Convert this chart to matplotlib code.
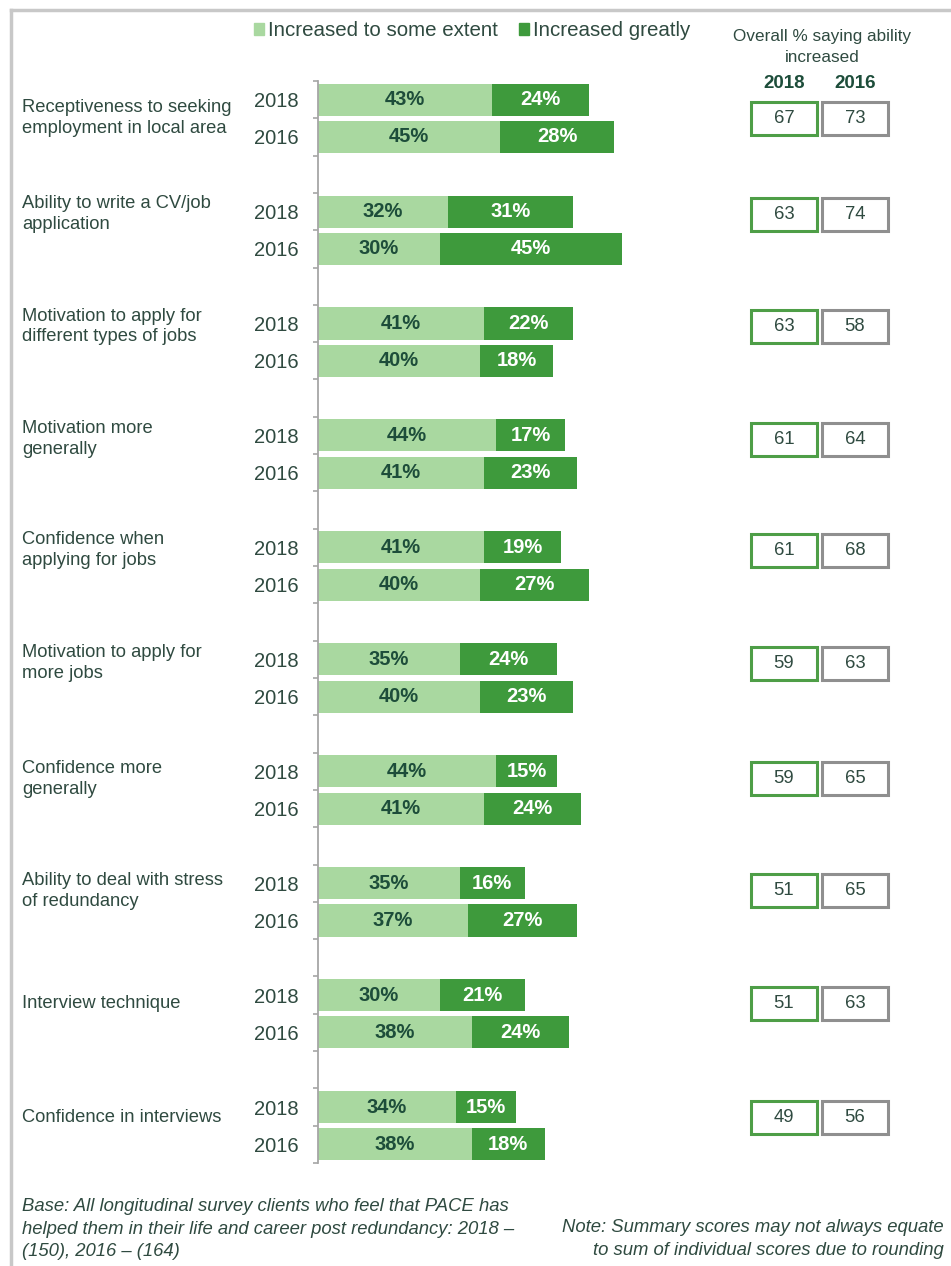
import matplotlib.pyplot as plt
from matplotlib.patches import Rectangle
from matplotlib.transforms import blended_transform_factory

plt.rcParams['font.family'] = ['Liberation Sans', 'DejaVu Sans']

# Survey measures, 2018 vs 2016
categories = [
    "Receptiveness to seeking\nemployment in local area",
    "Ability to write a CV/job\napplication",
    "Motivation to apply for\ndifferent types of jobs",
    "Motivation more\ngenerally",
    "Confidence when\napplying for jobs",
    "Motivation to apply for\nmore jobs",
    "Confidence more\ngenerally",
    "Ability to deal with stress\nof redundancy",
    "Interview technique",
    "Confidence in interviews",
]
some_2018 = [43, 32, 41, 44, 41, 35, 44, 35, 30, 34]
great_2018 = [24, 31, 22, 17, 19, 24, 15, 16, 21, 15]
some_2016 = [45, 30, 40, 41, 40, 40, 41, 37, 38, 38]
great_2016 = [28, 45, 18, 23, 27, 23, 24, 27, 24, 18]
overall_2018 = [67, 63, 63, 61, 61, 59, 59, 51, 51, 49]
overall_2016 = [73, 74, 58, 64, 68, 63, 65, 65, 63, 56]
years = ["2018", "2016"]

LIGHT = '#a9d8a0'
DARK = '#3e9a3c'
TXT = '#2f4a40'
TXT_DARK = '#1d4d3a'

W, H = 951, 1266
fig = plt.figure(figsize=(W / 100, H / 100), dpi=100)


def fx(px):
    return px / W


def fy(py):
    return 1 - py / H


ax = fig.add_axes([fx(318), fy(1163), fx(405), (1163 - 81) / H])

n = len(categories)
y18 = [3 * i for i in range(n)]
y16 = [3 * i + 1 for i in range(n)]
bh = 0.86

for ys, some, great in [(y18, some_2018, great_2018), (y16, some_2016, great_2016)]:
    b1 = ax.barh(ys, some, height=bh, color=LIGHT)
    b2 = ax.barh(ys, great, left=some, height=bh, color=DARK)
    ax.bar_label(b1, labels=[f"{v}%" for v in some], label_type='center',
                 color=TXT_DARK, fontweight='bold', fontsize=14.5)
    ax.bar_label(b2, labels=[f"{v}%" for v in great], label_type='center',
                 color='white', fontweight='bold', fontsize=14.5)

ax.set_xlim(0, 100)
ax.set_ylim(3 * n - 1.5, -0.5)
for s in ['top', 'right', 'bottom']:
    ax.spines[s].set_visible(False)
ax.spines['left'].set_color('#a6a6a6')
ax.spines['left'].set_linewidth(1.3)
ax.set_xticks([])

ax.set_yticks(y18 + y16)
ax.set_yticklabels([years[0]] * n + [years[1]] * n, fontsize=14.5, color=TXT)
ax.tick_params(axis='y', which='major', length=0, pad=14)
ax.set_yticks([k - 0.5 for k in range(3 * n)], minor=True)
ax.tick_params(axis='y', which='minor', length=3.6, width=1.2, color='#a6a6a6')

# category labels and overall summary boxes share a row position
box_offset = [0.5, 0.07, 0.08, 0.1, 0.08, 0.1, 0.2, 0.2, 0.22, 0.27]
tr = blended_transform_factory(fig.transFigure, ax.transData)
box_h = 33 / 37.3
for i in range(n):
    yc = y18[i] + box_offset[i]
    fig.text(fx(22), 0, categories[i], transform=tr, ha='left', va='center',
             fontsize=13.2, color=TXT, linespacing=1.3).set_y(yc)
    for x0, val, ec in [(751, overall_2018[i], '#4e9e47'), (822, overall_2016[i], '#8f8f8f')]:
        r = Rectangle((fx(x0), yc - box_h / 2), fx(66), box_h, transform=tr,
                      fill=False, edgecolor=ec, linewidth=2.2, clip_on=False)
        fig.add_artist(r)
        fig.text(fx(x0 + 33), yc, str(val), transform=tr, ha='center', va='center',
                 fontsize=13.3, color=TXT)

# column header for summary boxes
fig.text(fx(822), fy(47), "Overall % saying ability\nincreased", ha='center', va='center',
         fontsize=12.3, color=TXT, linespacing=1.5)
fig.text(fx(784), fy(84), "2018", ha='center', va='center', fontsize=13.5,
         fontweight='bold', color=TXT_DARK)
fig.text(fx(855), fy(84), "2016", ha='center', va='center', fontsize=13.5,
         fontweight='bold', color=TXT_DARK)

# legend
handles = [Rectangle((0, 0), 1, 1, color=LIGHT), Rectangle((0, 0), 1, 1, color=DARK)]
fig.legend(handles, ["Increased to some extent", "Increased greatly"], ncol=2,
           loc='center', bbox_to_anchor=(fx(472), fy(31)), frameon=False,
           fontsize=14.8, handlelength=0.5, handleheight=0.5, handletextpad=0.2,
           columnspacing=1.0, labelcolor=TXT)

# footnotes
fig.text(fx(22), fy(1229), "Base: All longitudinal survey clients who feel that PACE has\n"
         "helped them in their life and career post redundancy: 2018 –\n(150), 2016 – (164)",
         ha='left', va='center', fontsize=13.3, style='italic', color=TXT,
         linespacing=1.45)
fig.text(fx(944), fy(1239), "Note: Summary scores may not always equate\n"
         "to sum of individual scores due to rounding",
         ha='right', va='center', fontsize=13.3, style='italic', color=TXT,
         linespacing=1.45)

# page frame
fig.add_artist(plt.Line2D([fx(11), fx(11)], [0, fy(10)], color='#c8c8c8', linewidth=2.5))
fig.add_artist(plt.Line2D([fx(11), 1], [fy(10), fy(10)], color='#c8c8c8', linewidth=2.5))

fig.savefig('out.png', dpi=100, facecolor='white')
